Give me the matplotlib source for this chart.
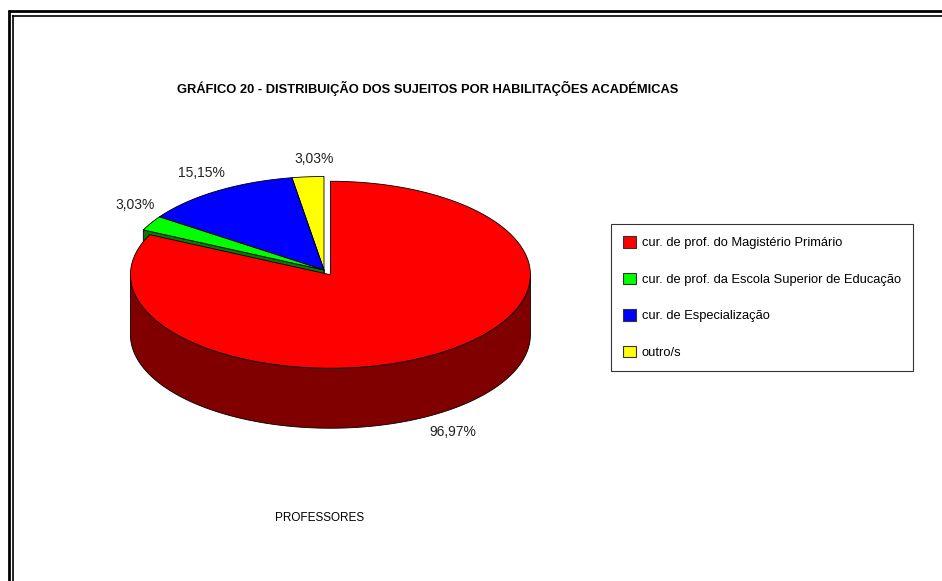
import matplotlib.pyplot as plt
from matplotlib.patches import Polygon, Patch
import numpy as np

plt.rcParams['font.family'] = ['Liberation Sans', 'DejaVu Sans']

labels = ['cur. de prof. do Magistério Primário',
          'cur. de prof. da Escola Superior de Educação',
          'cur. de Especialização',
          'outro/s']
values = [96.97, 3.03, 15.15, 3.03]
value_text = ['96,97%', '3,03%', '15,15%', '3,03%']
colors = ['#FF0000', '#00FF00', '#0000FF', '#FFFF00']
side_colors = ['#800000', '#008000', '#000080', '#808000']
explode = [0.06, 0, 0, 0]

title = 'GRÁFICO 20 - DISTRIBUIÇÃO DOS SUJEITOS POR HABILITAÇÕES ACADÉMICAS'
xlabel = 'PROFESSORES'

# pie geometry in pixels
cx, cy = 324, 270
rx, ry = 200, 93.5
depth = 60


def ell(t, ox, oy, dz=0):
    t = np.radians(t)
    return np.column_stack([ox + rx * np.cos(t), oy - ry * np.sin(t) + dz])


fig = plt.figure(figsize=(9.42, 5.81), dpi=100)
ax = fig.add_axes([0, 0, 1, 1])
ax.set_xlim(0, 942)
ax.set_ylim(581, 0)
ax.axis('off')

fracs = np.array(values) / sum(values)
ends = 90 - 360 * np.cumsum(fracs)
starts = ends + 360 * fracs
mids = (starts + ends) / 2

order = np.argsort(-np.sin(np.radians(mids)))  # back slices first
for i in order:
    m = np.radians(mids[i])
    ox = cx + explode[i] * rx * np.cos(m)
    oy = cy - explode[i] * ry * np.sin(m)
    kw = dict(edgecolor='black', linewidth=0.6, joinstyle='round')

    # radial faces
    for a, nrm in [(starts[i], starts[i] + 90), (ends[i], ends[i] - 90)]:
        if np.sin(np.radians(nrm)) < -1e-6:
            e_top = ell([a], ox, oy)[0]
            quad = [(ox, oy), e_top, (e_top[0], e_top[1] + depth), (ox, oy + depth)]
            ax.add_patch(Polygon(quad, closed=True, facecolor=side_colors[i], **kw))

    # outer curved side (front half only)
    for k in range(-2, 2):
        lo = max(ends[i], 180 + 360 * k)
        hi = min(starts[i], 360 + 360 * k)
        if hi > lo:
            t = np.linspace(lo, hi, 120)
            top = ell(t, ox, oy)
            bot = ell(t[::-1], ox, oy, depth)
            ax.add_patch(Polygon(np.vstack([top, bot]), closed=True,
                                 facecolor=side_colors[i], **kw))

    # top face
    t = np.linspace(starts[i], ends[i], 240)
    pts = np.vstack([[ox, oy], ell(t, ox, oy)])
    ax.add_patch(Polygon(pts, closed=True, facecolor=colors[i], **kw))

    # value label, outside the rim
    ex, ey = ell([mids[i]], ox, oy)[0]
    c, s = np.cos(m), np.sin(m)
    lx = ex + (16 * np.sign(c) if abs(c) > 0.3 else 6)
    ly = ey - 18 * np.sign(s) + (depth if s < 0 else 0)
    ax.text(lx, ly, value_text[i], ha='center', va='center', fontsize=10,
            color='#222222')

ax.text(428, 88, title, ha='center', va='center', fontsize=9.3,
        fontweight='bold', color='black')
ax.text(320, 518, xlabel, ha='center', va='center', fontsize=8.5,
        color='black')

handles = [Patch(facecolor=c, edgecolor='#333333', linewidth=0.8) for c in colors]
leg = ax.legend(handles, labels, loc='upper left',
                bbox_to_anchor=(611 / 942, 1 - 224 / 581),
                bbox_transform=fig.transFigure, fontsize=9.3,
                frameon=True, fancybox=False, shadow=False,
                borderpad=0.95, labelspacing=1.8, handlelength=1.0,
                handleheight=1.0, handletextpad=0.45, borderaxespad=0)
leg.get_frame().set_edgecolor('black')
leg.get_frame().set_linewidth(0.8)

# double frame around the chart (left and top)
ax.plot([8.7, 8.7], [581, 9.5], color='black', lw=2.0, solid_capstyle='butt')
ax.plot([7.5, 942], [10.7, 10.7], color='black', lw=2.0, solid_capstyle='butt')
ax.plot([12.6, 12.6], [581, 15.2], color='black', lw=1.2, solid_capstyle='butt')
ax.plot([12, 942], [15.8, 15.8], color='black', lw=1.2, solid_capstyle='butt')

fig.savefig('out.png', dpi=100)
